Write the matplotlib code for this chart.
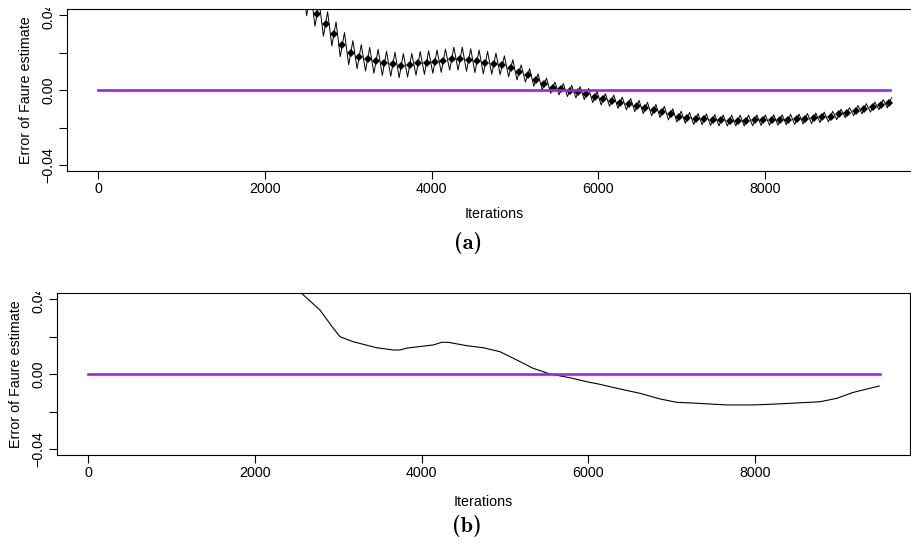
import os
import numpy as np
import matplotlib
matplotlib.use("Agg")
import matplotlib.pyplot as plt
from matplotlib.font_manager import FontProperties
from matplotlib.transforms import Bbox, TransformedBbox

plt.rcParams["font.family"] = ["Liberation Sans", "DejaVu Sans"]

# (a) raw Faure estimate: one marker every 101 iterations (k = 22..94)
marker_step = 101
marker_k = np.arange(22, 95)
marker_err = [
    0.0640, 0.0580, 0.0520, 0.0460,
    0.0405, 0.0352, 0.0299, 0.0242, 0.0199, 0.0178, 0.0164, 0.0153,
    0.0142, 0.0137, 0.0130, 0.0132, 0.0142, 0.0146, 0.0151, 0.0156,
    0.0167, 0.0167, 0.0160, 0.0153, 0.0146, 0.0140, 0.0132, 0.0116,
    0.0094, 0.0078, 0.0053, 0.0032, 0.0012, 0.0004, -0.0005, -0.0012,
    -0.0021, -0.0037, -0.0050, -0.0057, -0.0068, -0.0075, -0.0085, -0.0096,
    -0.0107, -0.0117, -0.0130, -0.0142, -0.0149, -0.0155, -0.0156, -0.0160,
    -0.0162, -0.0163, -0.0163, -0.0163, -0.0162, -0.0161, -0.0160, -0.0160,
    -0.0158, -0.0156, -0.0153, -0.0151, -0.0146, -0.0142, -0.0130, -0.0121,
    -0.0110, -0.0100, -0.0091, -0.0078, -0.0068,
]
# half height of the periodic wiggle around each marker
wiggle = [
    0.0064, 0.0064, 0.0064, 0.0064, 0.0065, 0.0065, 0.0064, 0.0064,
    0.0064, 0.0064, 0.0063, 0.0064, 0.0064, 0.0064, 0.0064, 0.0063,
    0.0063, 0.0063, 0.0062, 0.0062, 0.0061, 0.0061, 0.0060, 0.0060,
    0.0060, 0.0056, 0.0050, 0.0045, 0.0040, 0.0036, 0.0033, 0.0031,
    0.0030, 0.0030, 0.0030, 0.0030, 0.0030, 0.0030, 0.0030, 0.0030,
    0.0030, 0.0030, 0.0030, 0.0030, 0.0030, 0.0030, 0.0030, 0.0029,
    0.0029, 0.0029, 0.0029, 0.0029, 0.0029, 0.0029, 0.0029, 0.0029,
    0.0029, 0.0028, 0.0028, 0.0028, 0.0028, 0.0028, 0.0028, 0.0028,
    0.0028, 0.0028, 0.0028, 0.0027, 0.0027, 0.0027, 0.0027, 0.0027,
    0.0027,
]

# (b) smoothed estimate
smooth_iter = [2400, 2560, 2780, 2940, 3020, 3180, 3460, 3660, 3740, 3820,
               4140, 4240, 4320, 4540, 4740, 4940, 5140, 5340, 5540, 5780,
               5980, 6140, 6340, 6620, 6860, 7060, 7260, 7460, 7660, 7980,
               8260, 8780, 8980, 9180, 9490]
smooth_err = [0.0495, 0.0430, 0.0341, 0.0244, 0.0199, 0.0172, 0.0140, 0.0128,
              0.0128, 0.0138, 0.0155, 0.0169, 0.0169, 0.0151, 0.0140, 0.0119,
              0.0075, 0.0030, 0.0000, -0.0020, -0.0041, -0.0055, -0.0076,
              -0.0103, -0.0133, -0.0151, -0.0155, -0.0160, -0.0165, -0.0165,
              -0.0160, -0.0148, -0.0130, -0.0098, -0.0064]

ref_x = [0, 9500]
ref_y = [0, 0]

yticks = [-0.04, -0.02, 0.0, 0.02, 0.04]
ytick_labels = ["\u22120.04", "", "0.00", "", "0.04"]
xticks = [0, 2000, 4000, 6000, 8000]

FS = 10.3
W, H = 912, 546

cm_bold = FontProperties(fname=os.path.join(matplotlib.get_data_path(), "fonts", "ttf", "cmb10.ttf"),
                         size=16)


def style_axes(ax, xlim, clip_top_px, xpad):
    ax.set_xlim(*xlim)
    ax.set_ylim(-0.0432, 0.0432)
    ax.set_xticks(xticks)
    ax.set_xticklabels([str(t) for t in xticks], fontsize=FS)
    ax.set_yticks(yticks)
    ax.set_yticklabels(ytick_labels, fontsize=FS, rotation=90, va="center")
    ax.tick_params(direction="out", length=6, width=0.8, pad=2)
    for s in ax.spines.values():
        s.set_linewidth(0.8)
    ax.set_xlabel("Iterations", fontsize=FS, labelpad=xpad)
    ax.set_ylabel("Error of Faure estimate", fontsize=FS, labelpad=6)
    # the source panels were cropped just above the plot box
    clip = TransformedBbox(Bbox([[0, 0], [1, 1 - clip_top_px / H]]), ax.figure.transFigure)
    for lab in ax.get_yticklabels():
        lab.set_clip_box(clip)
        lab.set_clip_on(True)


fig = plt.figure(figsize=(W / 100, H / 100), dpi=100)

# panel (a)
ax1 = fig.add_axes([66.6 / W, 1 - 171 / H, (921.6 - 66.6) / W, 162 / H])
mx = marker_k * marker_step
m = np.array(marker_err)
a = np.array(wiggle)
half = marker_step / 4
line_x, line_y = [], []
for xi, yi, ai in zip(mx, m, a):
    line_x += [xi - half, xi + half]
    line_y += [yi - ai, yi + ai]
ax1.plot(line_x, line_y, color="black", lw=0.7)
ax1.plot(mx, m, linestyle="none", marker="D", ms=4.2, mew=0, color="black")
ax1.plot(ref_x, ref_y, color="#A020F0", lw=1.9)
style_axes(ax1, (-380, 9880), 8, 8)

# panel (b)
ax2 = fig.add_axes([56.6 / W, 1 - 455 / H, (910.5 - 56.6) / W, 162 / H])
ax2.plot(smooth_iter, smooth_err, color="black", lw=0.8)
ax2.plot(ref_x, ref_y, color="#A020F0", lw=1.9)
style_axes(ax2, (-380, 9866), 292, 11)

fig.text(468 / W, 1 - 243 / H, "(a)", fontproperties=cm_bold, ha="center", va="center")
fig.text(467 / W, 1 - 526 / H, "(b)", fontproperties=cm_bold, ha="center", va="center")

fig.savefig("out.png", dpi=100)
